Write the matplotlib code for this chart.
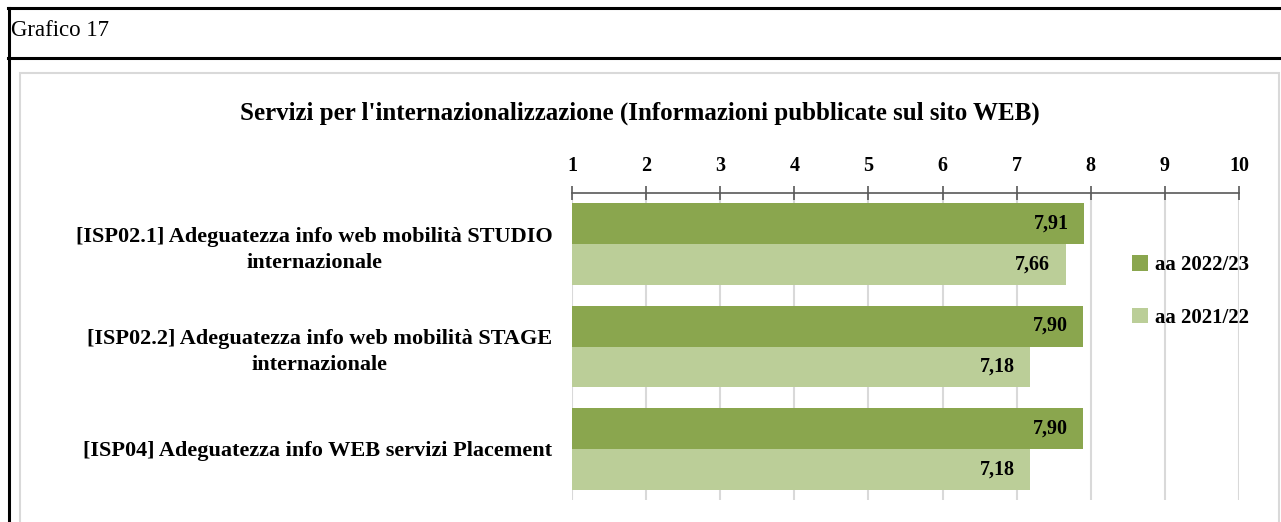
import matplotlib.pyplot as plt
from matplotlib.patches import Rectangle
from matplotlib.lines import Line2D

plt.rcParams['font.family'] = ['Liberation Serif', 'DejaVu Serif']

# dati del grafico
categorie = [
    "[ISP02.1] Adeguatezza info web mobilità STUDIO\ninternazionale",
    "[ISP02.2] Adeguatezza info web mobilità STAGE\ninternazionale",
    "[ISP04] Adeguatezza info WEB servizi Placement",
]
anni = ["aa 2022/23", "aa 2021/22"]
valori_2223 = [7.91, 7.90, 7.90]
valori_2122 = [7.66, 7.18, 7.18]
colori = ["#8AA64E", "#BBCE98"]

W, H = 1281, 522
fig = plt.figure(figsize=(W / 100, H / 100), dpi=100)

# cornice del riquadro "Grafico 17"
fig.add_artist(Line2D([8 / W, 1], [1 - 8 / H, 1 - 8 / H], color="black", lw=2.2))
fig.add_artist(Line2D([8 / W, 1], [1 - 58 / H, 1 - 58 / H], color="black", lw=2.2))
fig.add_artist(Line2D([8.5 / W, 8.5 / W], [0, 1 - 8 / H], color="black", lw=2.2))
fig.text(11 / W, 1 - 30 / H, "Grafico 17", fontsize=16.5, va="center", ha="left")

# bordo dell'area del grafico
fig.add_artist(Rectangle((20 / W, -0.05), (1279 - 20) / W, 1.05 - 73 / H,
                         transform=fig.transFigure, fill=False,
                         edgecolor="#D9D9D9", lw=1.5))

fig.text(640 / W, 1 - 113 / H,
         "Servizi per l'internazionalizzazione (Informazioni pubblicate sul sito WEB)",
         fontsize=18, fontweight="bold", ha="center", va="center")

ax = fig.add_axes([572 / W, 22 / H, (1239 - 572) / W, (500 - 193) / H])

y = list(range(len(categorie)))
h = 0.4
b1 = ax.barh([i - h / 2 for i in y], [v - 1 for v in valori_2223], left=1,
             height=h, color=colori[0], label=anni[0], zorder=3)
b2 = ax.barh([i + h / 2 for i in y], [v - 1 for v in valori_2122], left=1,
             height=h, color=colori[1], label=anni[1], zorder=3)

for barre, valori in [(b1, valori_2223), (b2, valori_2122)]:
    for r, v in zip(barre, valori):
        ax.annotate(f"{v:.2f}".replace(".", ","),
                    (v, r.get_y() + r.get_height() / 2),
                    xytext=(-11, 0), textcoords="offset points",
                    ha="right", va="center", fontsize=14.5, fontweight="bold",
                    zorder=4)

ax.set_xlim(1, 10)
ax.set_ylim(2.5, -0.5)
ax.set_xticks(range(1, 11))
ax.xaxis.tick_top()
ax.tick_params(axis="x", direction="inout", length=10, width=1.2,
               color="#595959", labelsize=14.5, pad=7)
for t in ax.get_xticklabels():
    t.set_fontweight("bold")
ax.set_yticks(y)
ax.set_yticklabels(categorie, fontsize=16, fontweight="bold",
                   multialignment="center", linespacing=1.4)
ax.tick_params(axis="y", length=0, pad=14)

ax.grid(axis="x", color="#D9D9D9", lw=1.5, zorder=0)
for s in ["right", "bottom", "left"]:
    ax.spines[s].set_visible(False)
ax.spines["top"].set_color("#595959")
ax.spines["top"].set_linewidth(1.2)

ax.legend(loc="upper left", bbox_to_anchor=(1124 / W, 1 - 247 / H),
          bbox_transform=fig.transFigure, frameon=False,
          prop={"size": 15, "weight": "bold"}, handlelength=0.75,
          handleheight=0.75, handletextpad=0.35, labelspacing=1.55,
          borderaxespad=0)

fig.savefig("out.png", dpi=100)
